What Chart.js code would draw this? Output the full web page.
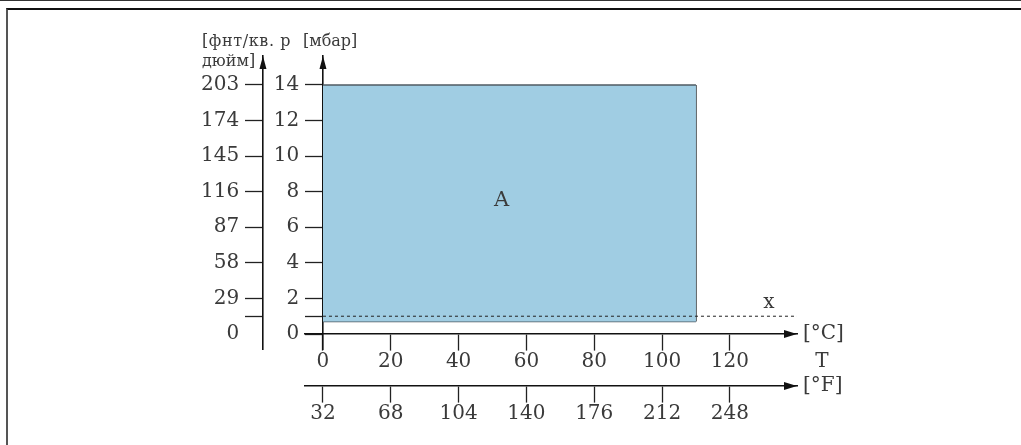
<!DOCTYPE html>
<html>
<head>
<meta charset="utf-8">
<script src="https://cdn.jsdelivr.net/npm/chart.js@4.4.1/dist/chart.umd.min.js"></script>
<style>
  html, body { margin: 0; padding: 0; background: #fff; }
  #wrap { position: relative; width: 1021px; height: 445px; overflow: hidden; }
  #topRule { position: absolute; left: 0; top: 0; width: 1021px; height: 1px; background: #333; }
  #frame { position: absolute; left: 6px; top: 8px; right: -2px; bottom: -2px; border-top: 2px solid #111; border-left: 2px solid #555; }
  canvas { position: absolute; left: 0; top: 0; }
</style>
</head>
<body>
<div id="wrap">
  <div id="topRule"></div>
  <div id="frame"></div>
  <canvas id="myChart" width="1021" height="445"></canvas>
</div>
<script>
// temperature axes: ticks in °C, matching °F labels
const celsiusTicks = [0, 20, 40, 60, 80, 100, 120];
const fahrenheitLabels = ['32', '68', '104', '140', '176', '212', '248'];

// pressure axes: ticks in mbar (1 = unlabelled tick), matching psi labels
const mbarTicks = [0, 1, 2, 4, 6, 8, 10, 12, 14];
const mbarLabels = ['0', '', '2', '4', '6', '8', '10', '12', '14'];
const psiLabels = ['0', '', '29', '58', '87', '116', '145', '174', '203'];

// area A (temperature range °C, pressure range mbar)
const areaTemp = [0, 110];
const areaPressure = [0.7, 14];

// limit line x
const limitPressure = 1;
const limitTemp = [0, 140];

const ink = '#3a3a3a';
const lineInk = '#111';
const tickFont = { family: 'DejaVu Serif', size: 20 };

// where the extra axes sit, in values of the other scale
const psiAxisAt = -17.7;   // °C
const fahrAxisAt = -2.92;  // mbar
const labelShift = -7;     // °C, labels of the pressure axes sit left of their ticks

const ctx = document.getElementById('myChart').getContext('2d');

function axisOptions(extra) {
  return Object.assign({
    type: 'linear',
    min: -0.843, max: 15.63,
    afterBuildTicks: s => { s.ticks = mbarTicks.map(v => ({ value: v })); },
    ticks: { display: false },
    grid: { drawOnChartArea: false, tickLength: 17, tickColor: '#222', tickWidth: 1.3 },
    border: { color: lineInk, width: 1.6 },
  }, extra);
}

function labelAxis(at, labels) {
  return {
    type: 'linear',
    min: -0.843, max: 15.63,
    position: { x: at },
    afterBuildTicks: s => { s.ticks = mbarTicks.map(v => ({ value: v })); },
    ticks: { autoSkip: false, padding: 0, font: tickFont, color: ink, callback: (v, i) => labels[i] },
    grid: { display: false },
    border: { display: false },
  };
}

function tempAxis(at, labels) {
  return {
    type: 'linear',
    min: -5.3, max: 139.8,
    position: { y: at },
    afterBuildTicks: s => { s.ticks = celsiusTicks.map(v => ({ value: v })); },
    ticks: { autoSkip: false, maxRotation: 0, padding: 0, font: tickFont, color: ink,
      callback: (v, i) => labels[i] },
    grid: { drawOnChartArea: false, tickLength: 16, tickColor: '#222', tickWidth: 1.3 },
    border: { color: lineInk, width: 1.6 },
  };
}

// arrow heads and the free texts
const decorations = {
  id: 'decorations',
  afterDraw(chart) {
    const { ctx, chartArea, scales } = chart;
    const xs = scales.x, ys = scales.y;
    ctx.save();
    ctx.fillStyle = lineInk;
    const up = (x) => {
      ctx.beginPath();
      ctx.moveTo(x, chartArea.top);
      ctx.lineTo(x - 3.5, chartArea.top + 13);
      ctx.lineTo(x + 3.5, chartArea.top + 13);
      ctx.closePath();
      ctx.fill();
    };
    const right = (y) => {
      ctx.beginPath();
      ctx.moveTo(chartArea.right, y);
      ctx.lineTo(chartArea.right - 13, y - 4);
      ctx.lineTo(chartArea.right - 13, y + 4);
      ctx.closePath();
      ctx.fill();
    };
    up(xs.getPixelForValue(0));
    up(xs.getPixelForValue(psiAxisAt));
    right(ys.getPixelForValue(0));
    right(ys.getPixelForValue(fahrAxisAt));

    ctx.fillStyle = ink;
    ctx.textBaseline = 'middle';
    ctx.textAlign = 'left';
    ctx.font = '16px "DejaVu Serif"';
    ctx.letterSpacing = '0.6px';
    ctx.fillText('[фнт/кв. р', 202, 42);
    ctx.letterSpacing = '0px';
    ctx.fillText('[мбар]', 303, 42);
    ctx.fillText('дюйм]', 202, 62);

    ctx.font = '20px "DejaVu Serif"';
    ctx.fillText('[°C]', chartArea.right + 6, ys.getPixelForValue(0));
    ctx.fillText('[°F]', chartArea.right + 6, ys.getPixelForValue(fahrAxisAt));
    ctx.textAlign = 'center';
    ctx.fillText('T', chartArea.right + 25, 362);
    ctx.fillText('x', xs.getPixelForValue(131.5), ys.getPixelForValue(1.75));
    ctx.font = '21px "DejaVu Serif"';
    ctx.fillText('A', xs.getPixelForValue(52.7), ys.getPixelForValue(7.5));
    ctx.restore();
  }
};

const chart = new Chart(ctx, {
  type: 'line',
  data: {
    datasets: [
      {
        // top edge of area A, filled down to the next dataset
        data: areaTemp.map(t => ({ x: t, y: areaPressure[1] })),
        borderColor: '#4f5a62',
        borderWidth: 1.5,
        backgroundColor: '#a0cde3',
        fill: '+1',
        pointRadius: 0,
      },
      {
        // bottom edge of area A
        data: areaTemp.map(t => ({ x: t, y: areaPressure[0] })),
        borderColor: '#4f5a62',
        borderWidth: 1.5,
        fill: false,
        pointRadius: 0,
      },
      {
        // right edge of area A
        data: areaPressure.map(p => ({ x: areaTemp[1], y: p })),
        borderColor: '#2a2f33',
        borderWidth: 1.5,
        fill: false,
        pointRadius: 0,
      },
      {
        // limit line x, drawn over area A
        data: limitTemp.map(t => ({ x: t, y: limitPressure })),
        borderColor: '#222',
        borderWidth: 1,
        borderDash: [3, 3],
        fill: false,
        pointRadius: 0,
        order: -1,
      },
    ],
  },
  options: {
    responsive: false,
    animation: false,
    events: [],
    layout: { padding: { left: 305, right: 224, top: 56, bottom: 96 } },
    plugins: { legend: { display: false }, tooltip: { enabled: false } },
    scales: {
      x: tempAxis(0, celsiusTicks.map(String)),
      xF: tempAxis(fahrAxisAt, fahrenheitLabels),
      y: axisOptions({ position: { x: 0 } }),
      yPsi: axisOptions({
        position: { x: psiAxisAt },
        grid: { drawOnChartArea: false, tickLength: 17, tickWidth: 1.3,
          tickColor: c => (c.tick && c.tick.value === 0 ? 'rgba(0,0,0,0)' : '#222') },
      }),
      yLab: labelAxis(labelShift, mbarLabels),
      yPsiLab: labelAxis(psiAxisAt + labelShift, psiLabels),
    },
  },
  plugins: [decorations],
});
</script>
</body>
</html>
